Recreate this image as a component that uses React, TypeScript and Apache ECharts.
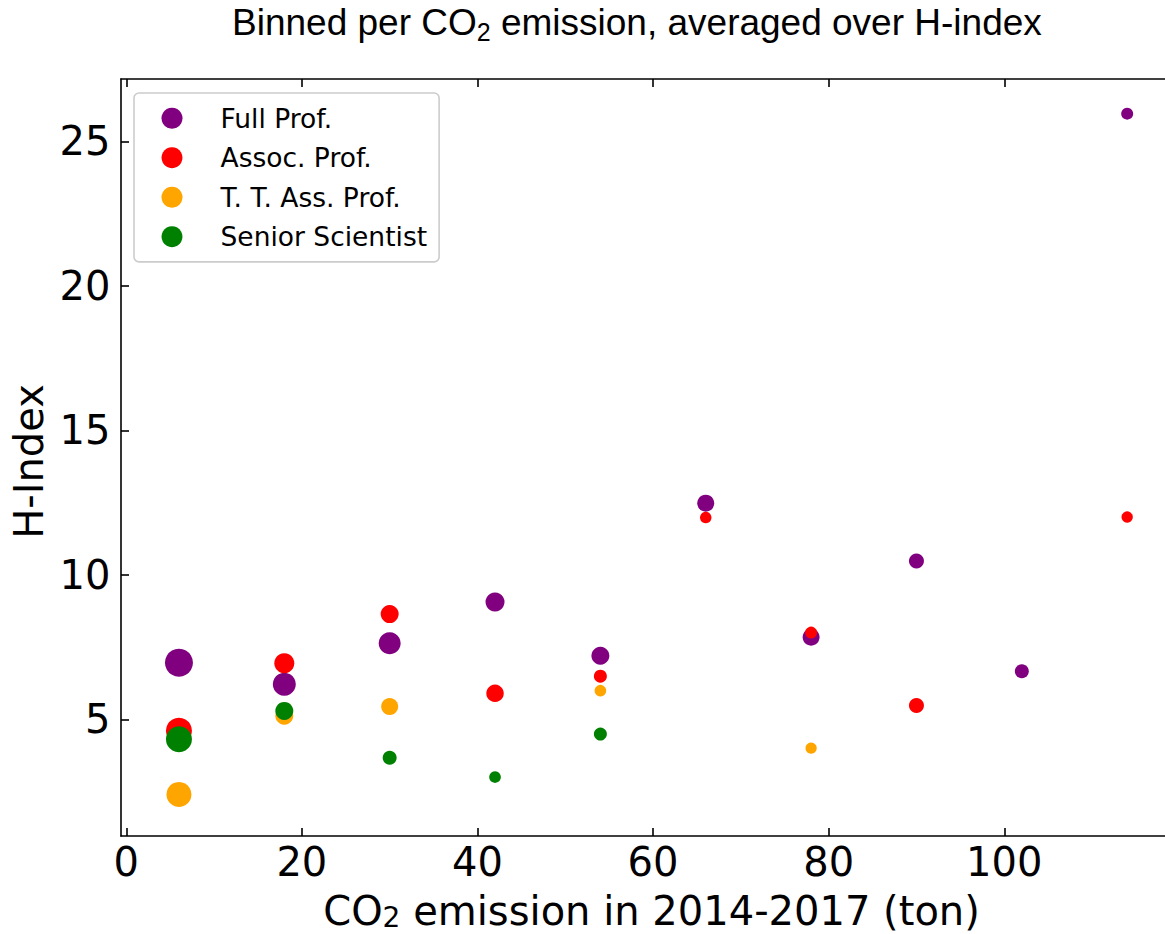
import React, { useEffect, useRef } from "react";
import * as echarts from "echarts";

// ---- data ----
const seriesNames = ["Full Prof.", "Assoc. Prof.", "T. T. Ass. Prof.", "Senior Scientist"];
const seriesColors = ["#800080", "#ff0000", "#ffa500", "#008000"];

const fullProfX = [6, 18, 30, 42, 54, 66, 78, 90, 102, 114];
const fullProfH = [6.96, 6.21, 7.63, 9.06, 7.2, 12.48, 7.84, 10.48, 6.66, 25.96];
const fullProfSize = [28, 23, 22, 19, 18, 17, 17, 15, 14, 12];

const assocProfX = [6, 18, 30, 42, 54, 66, 78, 90, 114];
const assocProfH = [4.6, 6.94, 8.64, 5.9, 6.49, 11.98, 8.0, 5.48, 12.0];
const assocProfSize = [26, 20, 18, 17.5, 13, 11.5, 12, 15, 11.3];

const ttAssProfX = [6, 18, 30, 54, 78];
const ttAssProfH = [2.4, 5.12, 5.44, 5.99, 4.0];
const ttAssProfSize = [25, 18, 17, 11.6, 11.2];

const seniorSciX = [6, 18, 30, 42, 54];
const seniorSciH = [4.31, 5.29, 3.67, 3.0, 4.49];
const seniorSciSize = [26, 18, 14, 11.7, 13];

const xTicks = [0, 20, 40, 60, 80, 100];
const yTicks = [5, 10, 15, 20, 25];

const titleText = "Binned per CO{sub|2} emission, averaged over H-index";
const xAxisName = "CO{sub|2} emission in 2014-2017 (ton)";
const yAxisName = "H-Index";

function zip(xs: number[], ys: number[], ss: number[]) {
  return xs.map((x, i) => [x, ys[i], ss[i]]);
}

const seriesData = [
  zip(fullProfX, fullProfH, fullProfSize),
  zip(assocProfX, assocProfH, assocProfSize),
  zip(ttAssProfX, ttAssProfH, ttAssProfSize),
  zip(seniorSciX, seniorSciH, seniorSciSize),
];

const FONT = "DejaVu Sans";

export default function App() {
  const ref = useRef<HTMLDivElement>(null);

  useEffect(() => {
    document.body.style.margin = "0";
    document.body.style.overflow = "hidden";
    if (!ref.current) return;
    const chart = echarts.init(ref.current, null, { renderer: "svg" });

    const axisLineStyle = { color: "#000", width: 1.6 };

    const option: any = {
      animation: false,
      backgroundColor: "#fff",
      title: {
        text: titleText,
        left: 227,
        top: -5,
        textStyle: {
          fontFamily: "Liberation Sans",
          fontSize: 37,
          fontWeight: "normal",
          color: "#000",
          lineHeight: 44,
          rich: {
            sub: {
              fontFamily: "Liberation Sans",
              fontSize: 25,
              lineHeight: 20,
              verticalAlign: "bottom",
              color: "#000",
            },
          },
        },
      },
      legend: {
        orient: "vertical",
        left: 134,
        top: 93,
        padding: [11.7, 12, 11.7, 27.5],
        itemWidth: 21,
        itemHeight: 21,
        itemGap: 12.5,
        icon: "circle",
        data: seriesNames,
        textStyle: {
          fontFamily: FONT,
          fontSize: 26.5,
          lineHeight: 26,
          color: "#000",
          padding: [0, 0, 0, 33],
        },
        borderColor: "#cccccc",
        borderWidth: 1.6,
        borderRadius: 5,
        backgroundColor: "rgba(255,255,255,0.8)",
      },
      grid: {
        left: 121,
        top: 79,
        right: -3,
        bottom: 98,
        containLabel: false,
        outerBoundsMode: "none",
      },
      xAxis: [
        {
          type: "value",
          min: -0.6,
          max: 118.65,
          position: "bottom",
          name: xAxisName,
          nameLocation: "middle",
          nameGap: 55,
          nameTextStyle: {
            fontFamily: FONT,
            fontSize: 40,
            lineHeight: 40,
            color: "#000",
            padding: [0, 0, 0, 14],
            rich: {
              sub: {
                fontFamily: FONT,
                fontSize: 28,
                lineHeight: 21,
                verticalAlign: "bottom",
                color: "#000",
              },
            },
          },
          axisLine: { show: true, onZero: false, lineStyle: axisLineStyle },
          axisTick: {
            show: true,
            inside: true,
            length: 8,
            customValues: xTicks,
            lineStyle: axisLineStyle,
          },
          axisLabel: {
            show: true,
            margin: 6,
            customValues: xTicks,
            fontFamily: FONT,
            fontSize: 40,
            color: "#000",
            formatter: (v: number) => String(Math.round(v)),
          },
          splitLine: { show: false },
        },
        {
          type: "value",
          min: -0.6,
          max: 118.65,
          position: "top",
          axisLine: { show: true, onZero: false, lineStyle: axisLineStyle },
          axisTick: {
            show: true,
            inside: true,
            length: 8,
            customValues: xTicks,
            lineStyle: axisLineStyle,
          },
          axisLabel: { show: false },
          splitLine: { show: false },
        },
      ],
      yAxis: [
        {
          type: "value",
          min: 0.96,
          max: 27.16,
          position: "left",
          name: yAxisName,
          nameLocation: "middle",
          nameGap: 65,
          nameTextStyle: {
            fontFamily: FONT,
            fontSize: 40,
            color: "#000",
            padding: [0, 8, 0, 0],
          },
          axisLine: { show: true, onZero: false, lineStyle: axisLineStyle },
          axisTick: {
            show: true,
            inside: true,
            length: 8,
            customValues: yTicks,
            lineStyle: axisLineStyle,
          },
          axisLabel: {
            show: true,
            margin: 10.5,
            customValues: yTicks,
            fontFamily: FONT,
            fontSize: 40,
            color: "#000",
            formatter: (v: number) => String(Math.round(v)),
          },
          splitLine: { show: false },
        },
      ],
      series: seriesNames.map((name, i) => ({
        name,
        type: "scatter",
        xAxisIndex: 0,
        yAxisIndex: 0,
        data: seriesData[i],
        symbol: "circle",
        symbolSize: (val: number[]) => val[2],
        itemStyle: { color: seriesColors[i], opacity: 1 },
        emphasis: { disabled: true },
        z: 2 + i,
      })),
    };

    chart.setOption(option);
    return () => {
      chart.dispose();
    };
  }, []);

  return (
    <div
      ref={ref}
      style={{ width: 1165, height: 934, position: "absolute", left: 0, top: 0 }}
    />
  );
}
